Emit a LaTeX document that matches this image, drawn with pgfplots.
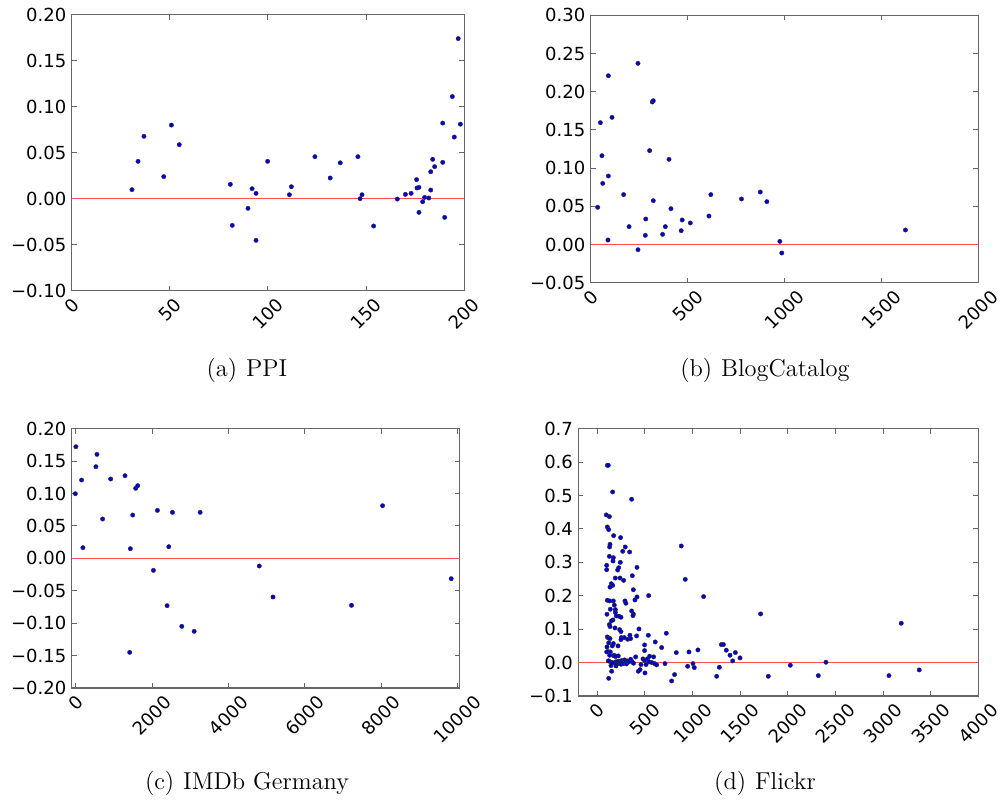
\documentclass[border=0pt]{standalone}
\usepackage{graphicx}
\usepackage{fontspec}
\usepackage{pgfplots}
\pgfplotsset{compat=1.18}
\newfontfamily\dejavu{DejaVu Sans}
\definecolor{zeroline}{RGB}{255,80,80}
\definecolor{dotfill}{RGB}{0,0,210}
\pgfplotsset{
  myax/.style={
    scale only axis, anchor=south west, scaled ticks=false,
    axis line style={black!60, line width=0.6pt},
    tick style={black!60, line width=0.5pt},
    tick align=inside, major tick length=2.5pt,
    ticklabel style={font=\dejavu\fontsize{9}{10}\selectfont},
    yticklabel style={inner sep=0pt, xshift=-2.5pt},
    xticklabel style={inner sep=0pt, anchor=north, yshift=-3pt},
  },
  dots/.style={only marks, mark=*, mark size=1.1pt,
    mark options={fill=dotfill, draw=black!80, line width=0.2pt}},
}
\begin{document}
\begin{tikzpicture}
\path[use as bounding box] (0,0) rectangle (501pt,401pt);
% (a) PPI
\begin{axis}[myax, at={(35.85pt,255.65pt)}, width=196.3pt, height=138pt,
  xmin=0, xmax=200, ymin=-0.10, ymax=0.20,
  xtick={0,50,100,150,200},
  xticklabels={\rotatebox{45}{0},\rotatebox{45}{50},\rotatebox{45}{100},\rotatebox{45}{150},\rotatebox{45}{200}},
  ytick={-0.10,-0.05,0,0.05,0.10,0.15,0.20},
  yticklabels={−0.10,−0.05,0.00,0.05,0.10,0.15,0.20}]
\addplot[color=zeroline, line width=0.7pt, no marks] coordinates {(0,0) (200,0)};
\addplot[dots] table {
30.7 0.0098
33.8 0.0406
36.8 0.0678
46.9 0.024
50.8 0.080
54.8 0.0587
80.8 0.0156
81.8 -0.029
89.8 -0.0105
91.9 0.0109
93.9 0.0058
93.9 -0.0453
99.8 0.0406
110.9 0.0043
111.9 0.013
123.9 0.0457
131.7 0.0225
136.8 0.039
145.8 0.0457
146.9 0.000
147.9 0.0043
153.8 -0.0297
165.9 -0.0004
170 0.0047
172.9 0.0058
175.7 0.0207
175.9 0.0116
176.9 0.0123
176.9 -0.0149
178.8 -0.0033
179.8 0.0014
181.9 0.0007
182.9 0.0094
182.9 0.0293
183.9 0.0428
184.9 0.0348
189 0.0822
189 0.0395
190 -0.0203
193.9 0.111
194.9 0.067
196.9 0.174
198 0.081
};
\end{axis}
% (b) BlogCatalog
\begin{axis}[myax, at={(295.35pt,259.65pt)}, width=193.8pt, height=133.65pt,
  xmin=0, xmax=2000, ymin=-0.05, ymax=0.30,
  xtick={0,500,1000,1500,2000},
  xticklabels={\rotatebox{45}{0},\rotatebox{45}{500},\rotatebox{45}{1000},\rotatebox{45}{1500},\rotatebox{45}{2000}},
  ytick={-0.05,0,0.05,0.10,0.15,0.20,0.25,0.30},
  yticklabels={−0.05,0.00,0.05,0.10,0.15,0.20,0.25,0.30}]
\addplot[color=zeroline, line width=0.7pt, no marks] coordinates {(0,0) (2000,0)};
\addplot[dots] table {
36 0.0487
50 0.1595
58 0.1163
62 0.080
91 0.221
91 0.0897
89 0.0059
110 0.1665
170 0.0653
198 0.0234
244 0.2372
244 -0.0068
282 0.012
284 0.0334
304 0.1229
318 0.1866
323 0.1883
323 0.0574
371 0.0133
385 0.0234
404 0.1115
414 0.0469
467 0.0181
472 0.0321
514 0.0282
610 0.0373
620 0.0653
778 0.0596
875 0.0687
909 0.0561
976 0.0041
986 -0.0111
1624 0.019
};
\end{axis}
% (c) IMDb Germany
\begin{axis}[myax, at={(35.85pt,57pt)}, width=194pt, height=129.65pt,
  xmin=-110, xmax=10060, ymin=-0.20, ymax=0.20,
  xtick={0,2000,4000,6000,8000,10000},
  xticklabels={\rotatebox{45}{0},\rotatebox{45}{2000},\rotatebox{45}{4000},\rotatebox{45}{6000},\rotatebox{45}{8000},\rotatebox{45}{10000}},
  ytick={-0.20,-0.15,-0.10,-0.05,0,0.05,0.10,0.15,0.20},
  yticklabels={−0.20,−0.15,−0.10,−0.05,0.00,0.05,0.10,0.15,0.20}]
\addplot[color=zeroline, line width=0.7pt, no marks] coordinates {(-110,0) (10060,0)};
\addplot[dots] table {
-15 0.0997
0 0.1722
149 0.1208
184 0.0165
525 0.1414
552 0.1604
700 0.0607
911 0.1224
1287 0.1275
1410 -0.145
1427 0.0149
1489 0.0668
1567 0.108
1620 0.1121
2032 -0.0185
2137 0.074
2391 -0.073
2434 0.018
2531 0.071
2776 -0.1049
3100 -0.1126
3257 0.071
4807 -0.0118
5166 -0.0596
7224 -0.0725
8039 0.0812
9837 -0.0314
};
\end{axis}
% (d) Flickr
\begin{axis}[myax, at={(289.15pt,53pt)}, width=200pt, height=133.65pt,
  xmin=-200, xmax=4000, ymin=-0.1, ymax=0.7,
  xtick={0,500,1000,1500,2000,2500,3000,3500,4000},
  xticklabels={\rotatebox{45}{0},\rotatebox{45}{500},\rotatebox{45}{1000},\rotatebox{45}{1500},\rotatebox{45}{2000},\rotatebox{45}{2500},\rotatebox{45}{3000},\rotatebox{45}{3500},\rotatebox{45}{4000}},
  ytick={-0.1,0,0.1,0.2,0.3,0.4,0.5,0.6,0.7},
  yticklabels={−0.1,0.0,0.1,0.2,0.3,0.4,0.5,0.6,0.7}]
\addplot[color=zeroline, line width=0.7pt, no marks] coordinates {(-200,0) (4000,0)};
\addplot[dots] table {
105 0.5905
115 0.5905
160 0.5107
360 0.4888
94 0.442
126 0.437
105 0.406
119 0.398
171 0.380
244 0.374
133 0.354
129 0.346
293 0.346
266 0.333
339 0.331
126 0.318
168 0.314
164 0.304
241 0.300
98 0.291
98 0.278
224 0.284
213 0.277
416 0.285
881 0.349
923 0.249
147 0.236
161 0.231
133 0.226
189 0.253
238 0.253
276 0.246
367 0.260
378 0.218
105 0.1865
129 0.1845
168 0.1845
178 0.172
290 0.1845
300 0.1775
395 0.1875
416 0.1965
539 0.2005
136 0.1596
189 0.1586
189 0.150
360 0.1546
378 0.1456
374 0.1406
199 0.1397
227 0.1387
248 0.1357
101 0.1446
164 0.1277
147 0.1247
126 0.1137
133 0.1077
185 0.1037
234 0.0988
248 0.0928
437 0.1007
105 0.0768
115 0.0738
133 0.0718
252 0.0748
283 0.0748
248 0.0688
412 0.0798
342 0.0818
349 0.0718
318 0.0698
535 0.0818
724 0.0878
119 0.0589
168 0.0569
157 0.0499
217 0.0499
101 0.0469
112 0.0329
136 0.0319
98 0.0320
496 0.0529
608 0.0618
496 0.0359
675 0.0449
829 0.0299
962 0.0319
1056 0.0379
129 0.0219
168 0.0209
182 0.0209
192 0.018
220 0.020
115 0.005
402 0.017
479 0.011
525 0.011
549 0.019
591 0.017
496 0.006
542 0.002
573 0.000
601 -0.003
622 -0.007
458 -0.006
511 -0.006
143 -0.009
196 -0.010
430 -0.026
448 -0.021
500 -0.031
710 -0.003
948 -0.011
1004 -0.003
1018 -0.015
811 -0.036
780 -0.055
150 -0.026
119 -0.047
1116 0.1975
1253 -0.041
1281 -0.014
1302 0.054
1323 0.054
1354 0.037
1393 0.022
1421 0.005
1449 0.030
1498 0.014
1714 0.1456
1795 -0.041
2026 -0.008
2320 -0.039
2400 0.001
3062 -0.039
3191 0.1177
3380 -0.022
190 0.002
200 -0.004
210 0.003
220 -0.002
230 0.004
240 0.000
250 -0.005
255 0.006
265 0.002
275 -0.003
285 0.008
295 0.000
305 -0.004
315 0.005
330 0.002
350 0.010
365 0.003
380 -0.002
120 0.005
145 0.001
160 -0.001
};
\end{axis}
% captions
\node[font=\fontsize{12.2}{14}\selectfont] at (123.5pt,216pt) {(a)\hspace{4.5pt}PPI};
\node[font=\fontsize{12.2}{14}\selectfont] at (382.5pt,216pt) {(b)\hspace{4.5pt}BlogCatalog};
\node[font=\fontsize{12.2}{14}\selectfont] at (123.5pt,9.5pt) {(c)\hspace{4.5pt}IMDb Germany};
\node[font=\fontsize{12.2}{14}\selectfont] at (382.5pt,9.5pt) {(d)\hspace{4.5pt}Flickr};
\end{tikzpicture}
\end{document}
